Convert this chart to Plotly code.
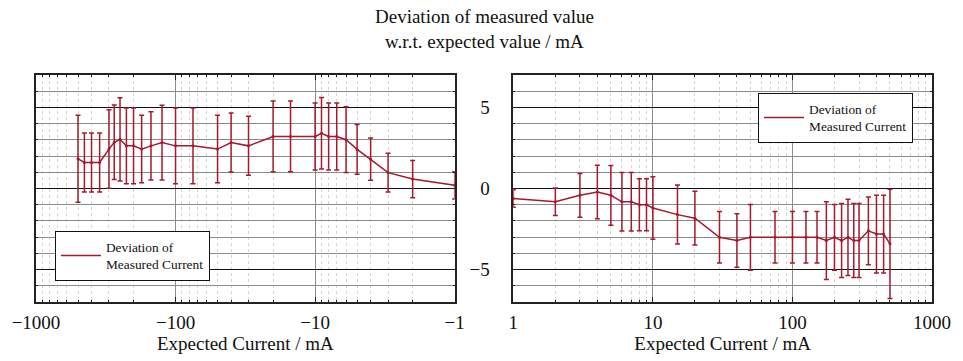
import numpy as np
import plotly.graph_objects as go

# ---- Data ----
neg_current = [-500, -450, -400, -350, -300, -275, -250, -225, -200, -175, -150, -125,
               -100, -75, -50, -40, -30, -20, -15, -10, -9, -8, -7, -6, -5, -4, -3, -2, -1]
neg_dev = [1.83, 1.61, 1.61, 1.61, 2.43, 2.85, 3.03, 2.63, 2.63, 2.43, 2.63, 2.83,
           2.63, 2.63, 2.43, 2.83, 2.63, 3.21, 3.21, 3.21, 3.41, 3.21, 3.21, 3.01, 2.41,
           1.81, 0.98, 0.58, 0.20]
neg_err = [2.68, 1.82, 1.82, 1.82, 2.42, 2.30, 2.56, 2.33, 2.33, 2.08, 2.10, 2.30,
           2.33, 2.33, 2.08, 1.82, 1.82, 2.18, 2.18, 2.07, 2.20, 2.07, 2.07, 2.03, 1.53,
           1.30, 1.20, 1.15, 0.84]

pos_current = [1, 2, 3, 4, 5, 6, 7, 8, 9, 10, 15, 20, 30, 40, 50, 75, 100, 125, 150,
               175, 200, 225, 250, 275, 300, 350, 400, 450, 500]
pos_dev = [-0.62, -0.82, -0.42, -0.22, -0.42, -0.82, -0.82, -1.00, -1.00, -1.20, -1.61,
           -1.83, -3.01, -3.21, -3.01, -3.01, -3.01, -3.01, -3.01, -3.21, -3.01, -3.21,
           -3.01, -3.21, -3.21, -2.61, -2.81, -2.81, -3.41]
pos_err = [0.54, 0.85, 1.35, 1.65, 1.84, 1.80, 1.80, 1.60, 1.60, 1.93, 1.82, 1.66,
           1.59, 1.65, 2.03, 1.59, 1.59, 1.59, 1.59, 2.40, 2.03, 2.28, 2.35, 2.28, 2.28,
           2.09, 2.40, 2.40, 3.37]

series_name = "Deviation of<br>Measured Current"
title_text = "Deviation of measured value<br>w.r.t. expected value / mA"
x_title = "Expected Current / mA"
neg_tickvals = [1000, 100, 10, 1]
neg_ticktext = ["\u22121000", "\u2212100", "\u221210", "\u22121"]
pos_tickvals = [1, 10, 100, 1000]
pos_ticktext = ["1", "10", "100", "1000"]

# ---- Style ----
RED = "#A6192E"
FONT = "Liberation Serif"
minor_vals = [m * d for d in (1, 10, 100) for m in range(2, 10)]

fig = go.Figure()
for xs, ys, es, xa, ya in [
    (np.abs(np.array(neg_current)), neg_dev, neg_err, "x", "y"),
    (pos_current, pos_dev, pos_err, "x2", "y2"),
]:
    fig.add_trace(go.Scatter(
        x=xs, y=ys, mode="lines+markers", showlegend=False,
        line=dict(color=RED, width=1.5), marker=dict(size=3, color=RED),
        error_y=dict(type="data", array=es, color=RED, thickness=1.5, width=2.5),
        xaxis=xa, yaxis=ya))

# legend-only entries (line sample without marker)
for xa, ya, lg in [("x", "y", "legend"), ("x2", "y2", "legend2")]:
    fig.add_trace(go.Scatter(
        x=[None], y=[None], mode="lines", name=series_name, showlegend=True,
        line=dict(color=RED, width=1.5), xaxis=xa, yaxis=ya, legend=lg))

L, R, T, B = 35, 27, 75, 54
W, H = 963, 361
pw = W - L - R
ph = H - T - B
d1 = [0, (456 - L) / pw]
d2 = [(515 - L) / pw, 1]

common_x = dict(
    type="log", showline=True, linecolor="#222", linewidth=1.5, mirror="ticks",
    ticks="inside", ticklen=5, tickcolor="#222", ticklabelstandoff=2,
    showgrid=True, gridcolor="#8c8c8c", gridwidth=1, zeroline=False,
    minor=dict(tickmode="array", tickvals=minor_vals, ticks="inside", ticklen=2,
               tickcolor="#222", showgrid=True, gridcolor="#d6d6d6", griddash="dot",
               gridwidth=1),
    title=dict(text=x_title, font=dict(family=FONT, size=19, color="#111"), standoff=3),
    tickfont=dict(family=FONT, size=19, color="#111"),
)
common_y = dict(
    range=[-7, 7], tick0=0, dtick=5, showline=True, linecolor="#222", linewidth=1.5,
    mirror="ticks", ticks="inside", ticklen=5, tickcolor="#222",
    showgrid=True, gridcolor="#111", gridwidth=1, zeroline=False,
    minor=dict(dtick=1, tick0=0, ticks="inside", ticklen=2, tickcolor="#222",
               showgrid=True, gridcolor="#8a8a8a", gridwidth=1),
    tickfont=dict(family=FONT, size=19, color="#111"),
)

legend_common = dict(xanchor="left", yanchor="top", bgcolor="white",
                     bordercolor="#111", borderwidth=1, itemwidth=40,
                     font=dict(family=FONT, size=13.4, color="#111"))

fig.update_layout(
    width=W, height=H, margin=dict(l=L, r=R, t=T, b=B),
    paper_bgcolor="white", plot_bgcolor="white", showlegend=True,
    font=dict(family=FONT, size=19, color="#111"),
    xaxis=dict(common_x, domain=d1, range=[3, 0], tickvals=neg_tickvals,
               ticktext=neg_ticktext, anchor="y"),
    yaxis=dict(common_y, domain=[0, 1], anchor="x", showticklabels=False),
    xaxis2=dict(common_x, domain=d2, range=[0, 3], tickvals=pos_tickvals,
                ticktext=pos_ticktext, anchor="y2"),
    yaxis2=dict(common_y, domain=[0, 1], anchor="x2", showticklabels=True,
                ticklabelstandoff=18),
    legend=dict(legend_common, x=(54 - L) / pw, y=(H - B - 234) / ph),
    legend2=dict(legend_common, x=(761 - L) / pw, y=(H - B - 93) / ph),
    annotations=[dict(text=title_text, x=0.5, xref="paper", xanchor="center",
                      y=1, yref="paper", yanchor="bottom", yshift=21,
                      showarrow=False,
                      font=dict(family=FONT, size=19, color="#111"))],
)

fig.write_html("out.html")
